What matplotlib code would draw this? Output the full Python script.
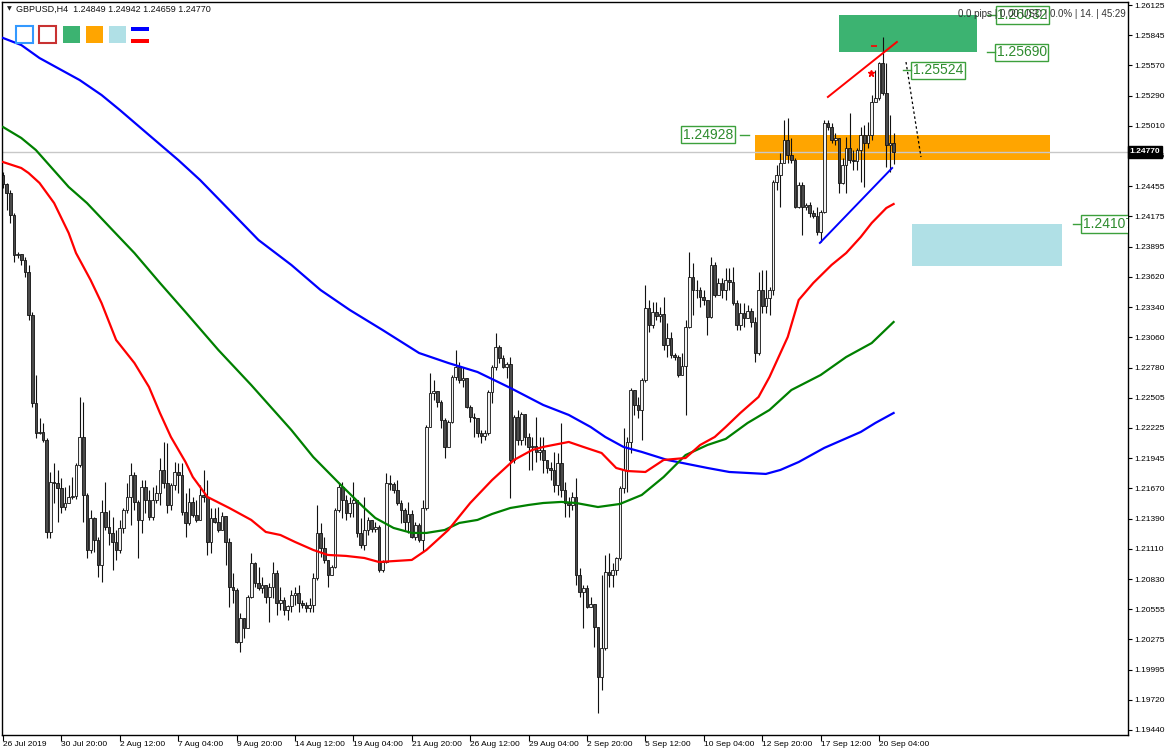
import matplotlib
matplotlib.use("Agg")
import matplotlib.pyplot as plt
from matplotlib.patches import Rectangle
import matplotlib.transforms as mtransforms

W, H = 1170, 750

# ---------------- data (GBPUSD H4) ----------------
first_open = 1.24557
close = [
    1.24475, 1.24392, 1.24189, 1.23820, 1.23829, 1.23774, 1.23663, 1.23267, 1.22455, 1.22179,
    1.22188, 1.22114, 1.21266, 1.21727, 1.21718, 1.21672, 1.21496, 1.21533, 1.21589, 1.21598,
    1.21884, 1.22142, 1.21607, 1.21100, 1.21395, 1.21192, 1.20962, 1.21450, 1.21312, 1.21257,
    1.21174, 1.21100, 1.21303, 1.21469, 1.21589, 1.21791, 1.21543, 1.21377, 1.21681, 1.21561,
    1.21404, 1.21561, 1.21626, 1.21838, 1.21718, 1.21515, 1.21699, 1.21819, 1.21791, 1.21450,
    1.21349, 1.21543, 1.21423, 1.21377, 1.21607, 1.21589, 1.21174, 1.21395, 1.21358, 1.21284,
    1.21414, 1.21174, 1.20759, 1.20731, 1.20252, 1.20473, 1.20381, 1.20667, 1.20980, 1.20796,
    1.20750, 1.20777, 1.20667, 1.20759, 1.20888, 1.20611, 1.20639, 1.20547, 1.20584, 1.20685,
    1.20704, 1.20611, 1.20593, 1.20565, 1.20593, 1.20842, 1.21257, 1.21118, 1.21008, 1.20870,
    1.20943, 1.21469, 1.21681, 1.21561, 1.21441, 1.21533, 1.21561, 1.21257, 1.21146, 1.21284,
    1.21377, 1.21294, 1.21312, 1.20916, 1.20989, 1.21718, 1.21709, 1.21653, 1.21533, 1.21469,
    1.21358, 1.21432, 1.21220, 1.21330, 1.21192, 1.21487, 1.22234, 1.22548, 1.22566, 1.22465,
    1.22299, 1.22050, 1.22280, 1.22695, 1.22787, 1.22667, 1.22686, 1.22418, 1.22326, 1.22317,
    1.22179, 1.22151, 1.22179, 1.22557, 1.22787, 1.22972, 1.22870, 1.22787, 1.22815, 1.21930,
    1.22326, 1.22114, 1.22354, 1.22142, 1.22050, 1.22059, 1.22004, 1.22022, 1.21930, 1.21856,
    1.21838, 1.21699, 1.21902, 1.21653, 1.21533, 1.21515, 1.21589, 1.20870, 1.20713, 1.20750,
    1.20574, 1.20602, 1.20390, 1.19929, 1.20196, 1.20897, 1.20870, 1.20916, 1.21026, 1.21672,
    1.21838, 1.22096, 1.22575, 1.22437, 1.22391, 1.22667, 1.23331, 1.23174, 1.23294, 1.23257,
    1.23276, 1.22990, 1.23055, 1.22898, 1.22879, 1.22713, 1.22796, 1.23156, 1.23617, 1.23497,
    1.23497, 1.23433, 1.23405, 1.23248, 1.23728, 1.23451, 1.23562, 1.23497, 1.23589, 1.23571,
    1.23377, 1.23174, 1.23285, 1.23239, 1.23303, 1.23202, 1.22916, 1.23497, 1.23350, 1.23423,
    1.23497, 1.24493, 1.24557, 1.24668, 1.24880, 1.24742, 1.24696, 1.24262, 1.24465, 1.24262,
    1.24281, 1.24207, 1.24179, 1.24032, 1.24216, 1.25037, 1.25000, 1.24880, 1.24899, 1.24484,
    1.24650, 1.24806, 1.24696, 1.24687, 1.24788, 1.24926, 1.24852, 1.24926, 1.25231, 1.25267,
    1.25590, 1.25314, 1.24834, 1.24849, 1.24770,
]
high = [
    1.24585, 1.24484, 1.24419, 1.24207, 1.23848, 1.23820, 1.23801, 1.23728, 1.23294, 1.22713,
    1.22317, 1.22271, 1.22133, 1.21819, 1.21902, 1.21838, 1.21764, 1.21681, 1.21699, 1.21773,
    1.21902, 1.22511, 1.22465, 1.21626, 1.21469, 1.21404, 1.21220, 1.21561, 1.21727, 1.21469,
    1.21404, 1.21284, 1.21377, 1.21487, 1.21718, 1.21902, 1.21819, 1.21561, 1.21745, 1.21745,
    1.21653, 1.21681, 1.21699, 1.21948, 1.22096, 1.22086, 1.21718, 1.21911, 1.21902, 1.21902,
    1.21626, 1.21672, 1.21589, 1.21561, 1.21699, 1.21838, 1.21745, 1.21487, 1.21487, 1.21496,
    1.21450, 1.21395, 1.21211, 1.20888, 1.20750, 1.20519, 1.20455, 1.20685, 1.21072, 1.20989,
    1.20943, 1.20851, 1.20759, 1.20796, 1.20989, 1.20916, 1.20759, 1.20667, 1.20593, 1.20731,
    1.20759, 1.20777, 1.20639, 1.20621, 1.20658, 1.20888, 1.21515, 1.21349, 1.21220, 1.20934,
    1.20962, 1.21487, 1.21718, 1.21727, 1.21607, 1.21589, 1.21727, 1.21469, 1.21395, 1.21589,
    1.21404, 1.21349, 1.21358, 1.21330, 1.21008, 1.21810, 1.21791, 1.21727, 1.21745, 1.21561,
    1.21487, 1.21543, 1.21469, 1.21358, 1.21349, 1.21561, 1.22252, 1.22732, 1.22667, 1.22557,
    1.22483, 1.22317, 1.22299, 1.22713, 1.22944, 1.22833, 1.22787, 1.22686, 1.22437, 1.22363,
    1.22317, 1.22206, 1.22206, 1.22575, 1.22805, 1.23101, 1.22990, 1.22898, 1.22833, 1.22879,
    1.22345, 1.22391, 1.22372, 1.22234, 1.22179, 1.22142, 1.22326, 1.22142, 1.22142, 1.21930,
    1.21911, 1.22004, 1.21994, 1.22271, 1.21727, 1.21589, 1.21635, 1.21764, 1.20934, 1.20777,
    1.20777, 1.20667, 1.20593, 1.20390, 1.20870, 1.21054, 1.21072, 1.20980, 1.21035, 1.21690,
    1.22225, 1.22142, 1.22594, 1.22529, 1.22511, 1.22686, 1.23543, 1.23405, 1.23387, 1.23387,
    1.23340, 1.23433, 1.23193, 1.23110, 1.22916, 1.22898, 1.22916, 1.23221, 1.23848, 1.23746,
    1.23589, 1.23525, 1.23497, 1.23405, 1.23801, 1.23755, 1.23608, 1.23608, 1.23700, 1.23700,
    1.23709, 1.23405, 1.23377, 1.23377, 1.23359, 1.23331, 1.23248, 1.23663, 1.23682, 1.23682,
    1.23525, 1.24511, 1.24650, 1.24760, 1.25065, 1.25083, 1.24899, 1.24714, 1.24493, 1.24493,
    1.24299, 1.24308, 1.24235, 1.24262, 1.24235, 1.25065, 1.25065, 1.25037, 1.24945, 1.24880,
    1.24714, 1.24908, 1.25129, 1.24788, 1.24806, 1.25000, 1.25018, 1.25046, 1.25295, 1.25526,
    1.25599, 1.25830, 1.25590, 1.25110, 1.24942,
]
low = [
    1.24438, 1.24235, 1.24115, 1.23755, 1.23792, 1.23728, 1.23617, 1.23221, 1.22418, 1.22133,
    1.22170, 1.22096, 1.21211, 1.21211, 1.21533, 1.21358, 1.21441, 1.21469, 1.21533, 1.21570,
    1.21570, 1.21865, 1.21358, 1.21026, 1.21072, 1.21082, 1.20851, 1.20805, 1.21284, 1.21146,
    1.20916, 1.21008, 1.21072, 1.21257, 1.21441, 1.21330, 1.21469, 1.21026, 1.21257, 1.21441,
    1.21377, 1.21377, 1.21533, 1.21515, 1.21672, 1.21441, 1.21469, 1.21653, 1.21626, 1.21423,
    1.21220, 1.21330, 1.21404, 1.21358, 1.21515, 1.21543, 1.21054, 1.21072, 1.21349, 1.21266,
    1.21330, 1.20962, 1.20574, 1.20611, 1.20243, 1.20160, 1.20289, 1.20381, 1.20658, 1.20759,
    1.20731, 1.20704, 1.20611, 1.20436, 1.20658, 1.20501, 1.20547, 1.20501, 1.20455, 1.20528,
    1.20593, 1.20528, 1.20565, 1.20528, 1.20528, 1.20528, 1.20824, 1.21035, 1.20980, 1.20759,
    1.20888, 1.20934, 1.21450, 1.21395, 1.21377, 1.21404, 1.21404, 1.21220, 1.21118, 1.21100,
    1.21238, 1.21266, 1.21266, 1.20897, 1.20897, 1.20980, 1.21653, 1.21626, 1.21515, 1.21349,
    1.21284, 1.21257, 1.21211, 1.21192, 1.21174, 1.21082, 1.21469, 1.22234, 1.22483, 1.22418,
    1.22225, 1.21948, 1.22050, 1.22271, 1.22667, 1.22640, 1.22603, 1.22409, 1.22280, 1.22142,
    1.22142, 1.22087, 1.22114, 1.22161, 1.22455, 1.22760, 1.22824, 1.22778, 1.22686, 1.21579,
    1.21902, 1.22068, 1.22068, 1.22068, 1.21838, 1.21838, 1.21911, 1.21930, 1.21810, 1.21810,
    1.21745, 1.21635, 1.21607, 1.21589, 1.21404, 1.21404, 1.21469, 1.20777, 1.20667, 1.20381,
    1.20565, 1.20574, 1.20206, 1.19597, 1.19809, 1.20178, 1.20759, 1.20759, 1.20870, 1.21008,
    1.21626, 1.21635, 1.21994, 1.22345, 1.22317, 1.22114, 1.22649, 1.23110, 1.23147, 1.23221,
    1.23202, 1.22944, 1.22879, 1.22870, 1.22852, 1.22695, 1.22741, 1.22345, 1.23147, 1.23267,
    1.23423, 1.23340, 1.23359, 1.23082, 1.23239, 1.23433, 1.23451, 1.23423, 1.23405, 1.23497,
    1.23359, 1.23128, 1.23128, 1.23156, 1.23248, 1.23156, 1.22833, 1.22898, 1.23285, 1.23285,
    1.23267, 1.23451, 1.24419, 1.24262, 1.24668, 1.24668, 1.24668, 1.24253, 1.24253, 1.24004,
    1.24235, 1.24170, 1.24161, 1.24004, 1.23940, 1.24207, 1.24972, 1.24852, 1.24834, 1.24392,
    1.24474, 1.24392, 1.24668, 1.24604, 1.24604, 1.24493, 1.24447, 1.24806, 1.24880, 1.25231,
    1.25249, 1.25295, 1.24631, 1.24585, 1.24659,
]

# moving averages (bar index, value)
ma_red_idx = [0, 5, 7, 10, 14, 18, 20, 24, 27, 31, 36, 40, 43, 46, 50, 52, 56, 62, 68, 72, 76, 80,
              85, 89, 94, 99, 103, 112, 116, 122, 128, 134, 140, 145, 148, 155, 159, 164, 168, 171,
              176, 181, 187, 191, 195, 198, 202, 207, 210, 215, 218, 222, 227, 231, 235, 238, 242, 244]
ma_red_val = [1.24677, 1.24622, 1.24576, 1.24484, 1.24299, 1.24022, 1.23838, 1.23589, 1.23377, 1.23036,
              1.22824, 1.22603, 1.22363, 1.22142, 1.21911, 1.21773, 1.21589, 1.21487, 1.21377, 1.21266,
              1.21238, 1.21174, 1.21100, 1.21054, 1.21045, 1.21026, 1.20989, 1.21008, 1.21100, 1.21284,
              1.21533, 1.21745, 1.21930, 1.22022, 1.22050, 1.22096, 1.22050, 1.21994, 1.21856, 1.21828,
              1.21819, 1.21930, 1.21948, 1.22068, 1.22142, 1.22234, 1.22363, 1.22511, 1.22695, 1.23064,
              1.23405, 1.23562, 1.23728, 1.23838, 1.23986, 1.24115, 1.24253, 1.24290]
ma_green_idx = [0, 5, 9, 18, 23, 30, 36, 43, 50, 59, 68, 79, 85, 92, 99, 102, 107, 112, 116, 121, 125,
                130, 134, 139, 144, 148, 153, 157, 163, 169, 175, 181, 187, 193, 198, 204, 210, 216,
                224, 231, 238, 244]
ma_green_val = [1.25000, 1.24899, 1.24788, 1.24447, 1.24299, 1.24050, 1.23838, 1.23562, 1.23294, 1.22944,
                1.22621, 1.22206, 1.21957, 1.21718, 1.21487, 1.21395, 1.21303, 1.21257, 1.21257, 1.21284,
                1.21349, 1.21377, 1.21432, 1.21487, 1.21515, 1.21533, 1.21543, 1.21533, 1.21496, 1.21524,
                1.21607, 1.21773, 1.21975, 1.22068, 1.22124, 1.22271, 1.22391, 1.22575, 1.22713, 1.22879,
                1.23008, 1.23202]
ma_blue_idx = [0, 5, 10, 21, 27, 32, 40, 48, 54, 62, 70, 79, 87, 95, 104, 114, 122, 130, 139, 148, 155,
               161, 165, 170, 175, 182, 193, 199, 209, 213, 218, 225, 235, 239, 244]
ma_blue_val = [1.25821, 1.25756, 1.25636, 1.25433, 1.25295, 1.25157, 1.24926, 1.24696, 1.24511, 1.24235,
               1.23958, 1.23728, 1.23497, 1.23313, 1.23128, 1.22916, 1.22824, 1.22741, 1.22594, 1.22437,
               1.22345, 1.22234, 1.22142, 1.22050, 1.22004, 1.21930, 1.21856, 1.21819, 1.21801, 1.21838,
               1.21911, 1.22041, 1.22188, 1.22271, 1.22363]

# drawn objects (bar index, price)
rect_x0 = [229.0, 206.0, 249.0]
rect_x1 = [266.8, 286.8, 290.1]
rect_top = [1.26032, 1.24928, 1.24107]
rect_bot = [1.25690, 1.24700, 1.23718]
rect_colors = ["#3CB371", "#FFA500", "#B0E0E6"]

red_trend_idx = [226.0, 244.9]
red_trend_val = [1.25277, 1.25784]
blue_trend_idx = [223.8, 243.6]
blue_trend_val = [1.23931, 1.24622]
dotted_idx = [247.4, 251.5]
dotted_val = [1.25599, 1.24723]

price_labels = ["1.26032", "1.25690", "1.25524", "1.24928", "1.24107"]
price_label_val = [1.26032, 1.25690, 1.25524, 1.24928, 1.24107]
price_label_idx = [272.4, 272.2, 249.2, 186.2, 295.8]
price_label_dash = ["left", "left", "left", "right", "left"]

current_price = 1.24770

x_tick_idx = [0, 16, 32, 48, 64, 80, 96, 112, 128, 144, 160, 176, 192, 208, 224, 240]
x_tick_labels = ["26 Jul 2019", "30 Jul 20:00", "2 Aug 12:00", "7 Aug 04:00", "9 Aug 20:00",
                 "14 Aug 12:00", "19 Aug 04:00", "21 Aug 20:00", "26 Aug 12:00", "29 Aug 04:00",
                 "2 Sep 20:00", "5 Sep 12:00", "10 Sep 04:00", "12 Sep 20:00", "17 Sep 12:00",
                 "20 Sep 04:00"]
y_ticks = [1.26125, 1.25845, 1.25570, 1.25290, 1.25010, 1.24735, 1.24455, 1.24175, 1.23895,
           1.23620, 1.23340, 1.23060, 1.22780, 1.22505, 1.22225, 1.21945, 1.21670, 1.21390,
           1.21110, 1.20830, 1.20555, 1.20275, 1.19995, 1.19720, 1.19440]

# ---------------- figure ----------------
fig = plt.figure(figsize=(W / 100, H / 100), dpi=100)
fig.patch.set_facecolor("white")
ax = fig.add_axes([2 / W, 15 / H, 1126 / W, 733 / H])
ax.set_facecolor("white")

bar_px = 3.65
px_per_price = 10845.0
ax.set_xlim(-1 / bar_px, 1125 / bar_px)
ax.set_ylim(1.26125 - 730 / px_per_price, 1.26125 + 3 / px_per_price)

# rectangles (background objects)
for x0, x1, t, b, c in zip(rect_x0, rect_x1, rect_top, rect_bot, rect_colors):
    ax.add_patch(Rectangle((x0, b), x1 - x0, t - b, facecolor=c, edgecolor="none", zorder=0.5))

# current price line
ax.axhline(current_price, color="#C8C8C8", lw=1.0, zorder=0.8)

# candles
n = len(close)
idx = list(range(n))
opens = [first_open] + close[:-1]
tops, bots, his, los, cols = [], [], [], [], []
for o, c, h, l in zip(opens, close, high, low):
    t, b = max(o, c), min(o, c)
    tops.append(t)
    bots.append(b)
    his.append(max(h, t))
    los.append(min(l, b))
    cols.append("#F0F0F0" if c >= o else "#4A4A4A")
ax.vlines(idx, los, his, color="#111111", lw=0.8, zorder=2)
heights = [max(t - b, 0.00004) for t, b in zip(tops, bots)]
ax.bar(idx, heights, bottom=bots, width=0.72, color=cols, edgecolor="#111111", linewidth=0.6, zorder=2.1)

# moving averages
ax.plot(ma_blue_idx, ma_blue_val, color="#0000FF", lw=1.6, zorder=3)
ax.plot(ma_green_idx, ma_green_val, color="#008000", lw=1.6, zorder=3)
ax.plot(ma_red_idx, ma_red_val, color="#FF0000", lw=1.6, zorder=3)

# trend lines
ax.plot(red_trend_idx, red_trend_val, color="#FF0000", lw=1.4, zorder=4)
ax.plot(blue_trend_idx, blue_trend_val, color="#0000FF", lw=1.4, zorder=4)
ax.plot(dotted_idx, dotted_val, color="black", lw=0.9, ls=(0, (2, 2)), zorder=4)

# small markers near the top
ax.plot([237.8], [1.25498], marker="*", color="#FF0000", ms=5, zorder=5)
ax.plot([238.6], [1.25747], marker="_", color="#FF0000", ms=5, mew=1.2, zorder=5)

# price labels with dashes
for txt, v, xi, side in zip(price_labels, price_label_val, price_label_idx, price_label_dash):
    ax.text(xi, v, txt, fontsize=10, family="Liberation Sans", color="#2E8B2E", va="center", ha="left",
            bbox=dict(boxstyle="square,pad=0.12", fc="white", ec="#3CA03C", lw=1.0),
            zorder=6, clip_on=True)
    if side == "left":
        ax.plot([xi - 2.7, xi - 0.4], [v, v], color="#3CA03C", lw=1.0, zorder=6)
    else:
        ax.plot([xi + 15.8, xi + 18.3], [v, v], color="#3CA03C", lw=1.0, zorder=6)

# axes styling
for s in ax.spines.values():
    s.set_color("black")
    s.set_linewidth(1.0)
ax.yaxis.tick_right()
ax.set_yticks(y_ticks)
ax.set_yticklabels([f"{v:.5f}" for v in y_ticks])
ax.tick_params(axis="y", direction="out", length=3, width=0.8, pad=1.5, labelsize=6,
               colors="black")
for lab in ax.get_yticklabels():
    lab.set_family("Liberation Sans")
ax.set_xticks(x_tick_idx)
ax.set_xticklabels(x_tick_labels, ha="left")
ax.tick_params(axis="x", direction="out", length=4, width=0.8, pad=0.5, labelsize=6, colors="black")
for lab in ax.get_xticklabels():
    lab.set_family("Liberation Sans")

# current price box on the axis
trans = mtransforms.blended_transform_factory(ax.transAxes, ax.transData)
ax.text(1.0015, current_price, "1.24770", transform=trans, fontsize=6, family="Liberation Sans",
        color="white", fontweight="bold", va="center", ha="left", clip_on=False, zorder=10,
        bbox=dict(boxstyle="square,pad=0.25", fc="black", ec="black"))

# header and info texts
fig.text(7 / W, 1 - 9 / H, "\u25BC", fontsize=4.5, va="center", ha="left", color="#222222")
fig.text(16 / W, 1 - 9 / H, "GBPUSD,H4  1.24849 1.24942 1.24659 1.24770", fontsize=6.5,
         family="Liberation Sans", va="center", ha="left", color="#111111")
fig.text(958 / W, 1 - 14 / H, "0.0 pips | 0.00 USD | 0.0% | 14. | 45:29", fontsize=7,
         family="Liberation Sans", va="center", ha="left", color="#333333", zorder=20)


# legend-like icons at top-left
def fig_rect(x, y, w, h, **kw):
    fig.add_artist(Rectangle((x / W, 1 - (y + h) / H), w / W, h / H, transform=fig.transFigure, **kw))


fig_rect(16, 26, 17, 17, fc="white", ec="#3399FF", lw=1.5)
fig_rect(39, 26, 17, 17, fc="white", ec="#C83232", lw=1.5)
fig_rect(63, 26, 17, 17, fc="#3CB371", ec="none")
fig_rect(86, 26, 17, 17, fc="#FFA500", ec="none")
fig_rect(109, 26, 17, 17, fc="#B0E0E6", ec="none")
fig_rect(131, 27, 18, 4, fc="#0000FF", ec="none")
fig_rect(131, 39, 18, 4, fc="#FF0000", ec="none")

fig.savefig("out.png", dpi=100, facecolor="white")
